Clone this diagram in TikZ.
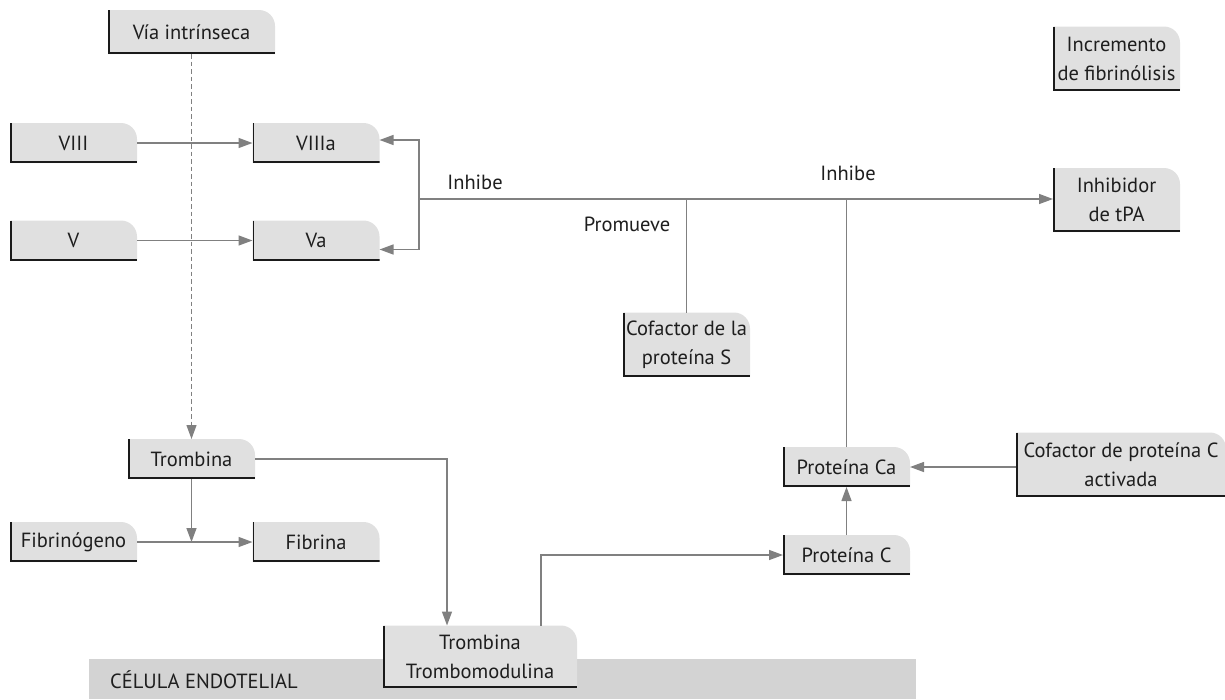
\documentclass[tikz,border=0pt]{standalone}
\usepackage{fontspec}
\setmainfont{PT Sans}
\usetikzlibrary{arrows.meta}
\definecolor{boxfill}{HTML}{E0E0E0}
\definecolor{bandfill}{HTML}{D3D3D3}
\definecolor{linec}{HTML}{808080}
\definecolor{edgec}{HTML}{1A1A1A}
\definecolor{textc}{HTML}{1E1E1E}
\tikzset{
  lbl/.style={font=\fontsize{20.5}{24}\selectfont, text=textc, inner sep=0pt},
  box/.style={rectangle, inner sep=0pt, outer sep=0pt, align=center, text=textc,
    font=\fontsize{20.5}{29}\selectfont, minimum width=127pt, minimum height=40pt,
    path picture={
      \fill[boxfill] (path picture bounding box.south west)
        -- (path picture bounding box.north west)
        -- ([xshift=-16pt]path picture bounding box.north east)
        arc[start angle=90, end angle=0, radius=16pt]
        -- (path picture bounding box.south east) -- cycle;
      \draw[line width=1.6pt, edgec]
        ([xshift=0.8pt]path picture bounding box.north west)
        -- ([xshift=0.8pt, yshift=0.8pt]path picture bounding box.south west)
        -- ([yshift=0.8pt]path picture bounding box.south east);
    }},
  tall/.style={minimum height=64pt},
  conn/.style={draw=linec, line width=1.4pt},
  tip/.style={-{Triangle[length=14pt, width=10pt]}},
  arr/.style={conn, tip},
  dashline/.style={conn, dash pattern=on 4.5pt off 3pt, line width=1.2pt}
}
\begin{document}
\begin{tikzpicture}[x=1pt, y=-1pt]
\useasboundingbox (0,0) rectangle (1225,699);

% endothelial cell band
\fill[bandfill] (89,659) rectangle (916,699);
\node[lbl, anchor=base west] (cell) at (110,688) {CÉLULA ENDOTELIAL};

% boxes
\node[box, minimum width=167pt, minimum height=44pt] (via) at (191.5,32) {Vía intrínseca};
\node[box] (viii)  at (73.5,143) {VIII};
\node[box] (viiia) at (316,143) {VIIIa};
\node[box] (v)     at (73.5,240.5) {V};
\node[box] (va)    at (316,240.5) {Va};
\node[box, tall] (incr)  at (1116.5,58.5) {Incremento\\de fibrinólisis};
\node[box, tall] (inhib) at (1116.5,200) {Inhibidor\\de tPA};
\node[box, tall] (cofs)  at (686.5,344.5) {Cofactor de la\\proteína S};
\node[box] (tromb) at (191.5,459) {Trombina};
\node[box] (fibg)  at (73.5,542) {Fibrinógeno};
\node[box] (fib)   at (316,542) {Fibrina};
\node[box, minimum width=194pt, minimum height=62pt] (tm) at (480,656.5) {Trombina\\Trombomodulina};
\node[box] (pc)    at (846.5,555) {Proteína C};
\node[box] (pca)   at (846.5,467) {Proteína Ca};
\node[box, tall, minimum width=210pt] (cofc) at (1121,464.5) {Cofactor de proteína C\\activada};

% junction and bend points
\coordinate (br) at (419,199);
\coordinate (jS) at (686.5,199);
\coordinate (jC) at (846.5,199);
\coordinate (jF) at (191.5,542);
\coordinate (tmIn) at (447,625.5);
\coordinate (tmOut) at (541,625.5);

% labels
\node[lbl] (inh1) at (475,182) {Inhibe};
\node[lbl] (inh2) at (848,173) {Inhibe};
\node[lbl] (prom) at (627,224) {Promueve};

% connectors
\draw[dashline, tip] (via.south) -- (tromb.north);
\draw[arr] (viii.east) -- (viiia.west);
\draw[arr] (v.east) -- (va.west);
\draw[arr] (br) |- ([yshift=3pt]viiia.east);
\draw[arr] (br) |- ([yshift=-9pt]va.east);
\draw[arr] (br) -- (br -| inhib.west);
\draw[conn] (cofs.north) -- (jS);
\draw[conn] (pca.north) -- (jC);
\draw[arr] (pc.north) -- (pca.south);
\draw[arr] (cofc.west |- pca.east) -- (pca.east);
\draw[arr] (tromb.east) -| (tmIn);
\draw[arr] (tromb.south) -- (jF);
\draw[arr] (fibg.east) -- (fib.west);
\draw[arr] (tmOut) |- (pc.west);
\end{tikzpicture}
\end{document}
